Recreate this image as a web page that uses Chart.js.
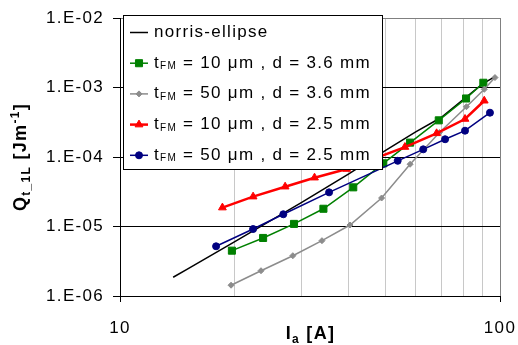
<!DOCTYPE html>
<html>
<head>
<meta charset="utf-8">
<script src="https://cdn.jsdelivr.net/npm/chart.js@4.4.1/dist/chart.umd.min.js"></script>
<style>
  html, body { margin: 0; background: #fff; }
  #wrap { width: 518px; height: 345px; }
</style>
</head>
<body>
<div id="wrap"><canvas id="c"></canvas></div>
<script>
// Q_t_1L vs I_a, log-log.

const FONT = "'Liberation Sans', Arial, sans-serif";
const LETTER_SP = "1.3px"; // the original text is wider than plain Arial

// norris-ellipse (black line, no markers)
const norrisI = [13.8, 15, 20, 30, 40, 50, 60, 70, 80, 90, 97];
const norrisQ = [1.86e-6, 2.42e-6, 6.0e-6, 2.2e-5, 5.7e-5, 1.25e-4, 2.3e-4, 3.7e-4, 6.7e-4, 1.13e-3, 1.43e-3];

// tFM = 10 um, d = 3.6 mm (green squares)
const g36I = [19.7, 23.8, 28.7, 34.3, 41.1, 49.3, 58.0, 69.0, 81.4, 90.4];
const g36Q = [4.49e-6, 6.84e-6, 1.09e-5, 1.80e-5, 3.66e-5, 8.11e-5, 1.61e-4, 3.37e-4, 6.95e-4, 1.17e-3];

// tFM = 50 um, d = 3.6 mm (grey diamonds)
const s36I = [19.6, 23.5, 28.5, 34.0, 40.3, 48.8, 58.0, 69.3, 81.6, 90.9, 97.0];
const s36Q = [1.43e-6, 2.31e-6, 3.80e-6, 6.25e-6, 1.05e-5, 2.57e-5, 7.87e-5, 2.25e-4, 5.29e-4, 9.42e-4, 1.39e-3];

// tFM = 10 um, d = 2.5 mm (red triangles)
const r25I = [18.6, 22.4, 27.2, 32.5, 39.5, 56.2, 68.1, 80.9, 90.9];
const r25Q = [1.87e-5, 2.69e-5, 3.74e-5, 5.04e-5, 6.71e-5, 1.39e-4, 2.19e-4, 3.52e-4, 6.45e-4];

// tFM = 50 um, d = 2.5 mm (blue circles)
const b25I = [17.9, 22.4, 26.9, 35.5, 53.8, 62.8, 71.7, 80.9, 94.1];
const b25Q = [5.19e-6, 9.2e-6, 1.50e-5, 3.10e-5, 8.81e-5, 1.29e-4, 1.80e-4, 2.39e-4, 4.34e-4];

const xGridValues = [10, 20, 30, 40, 50, 60, 70, 80, 90, 100];
const xTickValues = [10, 100];
const xTickLabels = ["10", "100"];
const yTickValues = [1e-6, 1e-5, 1e-4, 1e-3, 1e-2];
const yTickLabels = ["1.E-06", "1.E-05", "1.E-04", "1.E-03", "1.E-02"];

const legendTfm = ["10", "50", "10", "50"];
const legendD = ["3.6", "3.6", "2.5", "2.5"];

function pts(xs, ys) { return xs.map((x, i) => ({ x, y: ys[i] })); }

function series(label, xs, ys, color, style, radius, width, order) {
  return {
    label, data: pts(xs, ys), showLine: true,
    borderColor: color, backgroundColor: color, borderWidth: width,
    pointStyle: style, pointRadius: radius, pointHoverRadius: radius,
    pointBackgroundColor: color, pointBorderColor: color, pointBorderWidth: 1,
    order,
  };
}

// draws a run of text pieces (normal / sub / superscript), returns end x
function drawRich(ctx, parts, x, y, measureOnly) {
  let cx = x;
  for (const p of parts) {
    ctx.font = `${p.bold ? "bold " : ""}${p.size}px ${FONT}`;
    if (!measureOnly) ctx.fillText(p.t, cx, y + (p.dy || 0));
    cx += ctx.measureText(p.t).width;
  }
  return cx;
}

const spacing = {
  id: "spacing",
  beforeLayout(chart) { chart.ctx.letterSpacing = LETTER_SP; },
  beforeDraw(chart) { chart.ctx.letterSpacing = LETTER_SP; },
};

const extras = {
  id: "extras",
  afterDraw(chart) {
    const ctx = chart.ctx;
    const H = Chart.helpers;
    ctx.save();
    ctx.letterSpacing = LETTER_SP;
    ctx.textAlign = "left";
    ctx.textBaseline = "alphabetic";

    // legend box
    ctx.fillStyle = "#fff";
    ctx.fillRect(123.5, 15.5, 259, 154);
    ctx.strokeStyle = "#000";
    ctx.lineWidth = 1;
    ctx.strokeRect(123.5, 15.5, 259, 154);

    const ds = chart.data.datasets;
    for (let i = 0; i < ds.length; i++) {
      const d = ds[i];
      const yc = 32.5 + i * 30.7;
      ctx.strokeStyle = d.borderColor;
      ctx.lineWidth = d.borderWidth;
      ctx.beginPath();
      ctx.moveTo(130, yc);
      ctx.lineTo(148, yc);
      ctx.stroke();
      if (d.pointRadius > 0) {
        ctx.fillStyle = d.pointBackgroundColor;
        ctx.strokeStyle = d.pointBorderColor;
        ctx.lineWidth = 1;
        H.drawPoint(ctx, { pointStyle: d.pointStyle, radius: d.pointRadius, rotation: 0, borderWidth: 1 }, 139, yc);
      }
      ctx.fillStyle = "#000";
      if (i === 0) {
        drawRich(ctx, [{ t: d.label, size: 17 }], 154, yc + 4.5);
      } else {
        drawRich(ctx, [
          { t: "t", size: 17 },
          { t: "FM", size: 10, dy: 1.5 },
          { t: ` = ${legendTfm[i - 1]} \u03bcm , d = ${legendD[i - 1]} mm`, size: 17 },
        ], 154, yc + 4.5);
      }
    }

    // x axis title
    const xt = [
      { t: "I", size: 18, bold: true },
      { t: "a", size: 12, bold: true, dy: 4 },
      { t: " [A]", size: 18, bold: true },
    ];
    const xw = drawRich(ctx, xt, 0, 0, true);
    drawRich(ctx, xt, 310.5 - xw / 2, 339);

    // y axis title, rotated
    const yt = [
      { t: "Q", size: 18, bold: true },
      { t: "t_1L", size: 12, bold: true, dy: 4 },
      { t: " [Jm", size: 18, bold: true },
      { t: "-1", size: 12, bold: true, dy: -7 },
      { t: "]", size: 18, bold: true },
    ];
    const yw = drawRich(ctx, yt, 0, 0, true);
    ctx.translate(26, 157);
    ctx.rotate(-Math.PI / 2);
    drawRich(ctx, yt, -yw / 2, 0);
    ctx.restore();
  },
};

new Chart(document.getElementById("c"), {
  type: "scatter",
  data: {
    datasets: [
      series("norris-ellipse", norrisI, norrisQ, "#000000", "circle", 0, 1.5, 4),
      series("g36", g36I, g36Q, "#008000", "rect", 5, 1.5, 3),
      series("s36", s36I, s36Q, "#8c8c8c", "rectRot", 3, 1.5, 2),
      series("r25", r25I, r25Q, "#ff0000", "triangle", 4.5, 2.5, 1),
      series("b25", b25I, b25Q, "#000080", "circle", 3.5, 1.5, 0),
    ],
  },
  options: {
    responsive: true,
    maintainAspectRatio: false,
    animation: false,
    events: [],
    layout: { padding: { left: 0, right: 18, top: 18, bottom: 0 } },
    plugins: { legend: { display: false }, tooltip: { enabled: false } },
    scales: {
      x: {
        type: "logarithmic",
        min: 10, max: 100,
        afterBuildTicks: (s) => { s.ticks = xGridValues.map((v) => ({ value: v })); },
        afterFit: (s) => { s.height = 49; s.paddingLeft = 0; s.paddingRight = 0; },
        ticks: {
          autoSkip: false, maxRotation: 0, padding: 16, color: "#000",
          font: { family: FONT, size: 17 },
          callback: (v) => { const i = xTickValues.indexOf(v); return i < 0 ? "" : xTickLabels[i]; },
        },
        grid: {
          lineWidth: 1, tickLength: 6,
          color: (c) => (c.tick && c.tick.value === 10 ? "rgba(0,0,0,0)" : c.tick && c.tick.value === 100 ? "#808080" : "#c8c8c8"),
          tickColor: (c) => (c.tick && xTickValues.includes(c.tick.value) ? "#000" : "rgba(0,0,0,0)"),
        },
        border: { color: "#000", width: 1 },
      },
      y: {
        type: "logarithmic",
        min: 1e-6, max: 1e-2,
        afterBuildTicks: (s) => { s.ticks = yTickValues.map((v) => ({ value: v })); },
        afterFit: (s) => { s.width = 120; s.paddingTop = 0; s.paddingBottom = 0; },
        ticks: {
          autoSkip: false, padding: 9, color: "#000",
          font: { family: FONT, size: 17 },
          callback: (v) => { const i = yTickValues.findIndex((t) => Math.abs(t - v) / t < 1e-6); return i < 0 ? "" : yTickLabels[i]; },
        },
        grid: {
          lineWidth: 1, tickLength: 7,
          color: (c) => (c.tick && c.tick.value >= 1e-2 * 0.999 ? "#808080" : "#000"),
          tickColor: "#000",
        },
        border: { color: "#000", width: 1 },
      },
    },
  },
  plugins: [spacing, extras],
});
</script>
</body>
</html>
